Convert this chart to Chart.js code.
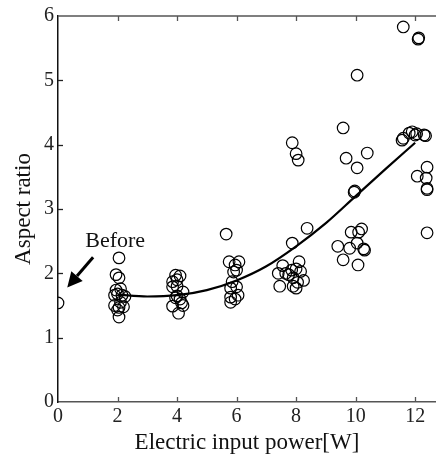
<!DOCTYPE html>
<html>
<head>
<meta charset="utf-8">
<script src="https://cdn.jsdelivr.net/npm/chart.js@4.4.1/dist/chart.umd.min.js"></script>
<style>
html,body{margin:0;padding:0;background:#fff;}
#wrap{width:436px;height:461px;}
</style>
</head>
<body>
<div id="wrap"><canvas id="c" width="436" height="461"></canvas></div>
<script>
// ---- data ----
const pointX = [
  0,
  2.05,1.95,2.05,1.95,2.1,2.0,2.15,2.25,1.9,1.9,2.05,2.2,2.0,2.05,2.1,
  3.95,4.1,3.85,4.0,3.85,4.0,4.2,3.95,4.1,4.15,3.85,4.2,4.05,4.0,
  5.65,5.75,6.08,5.95,5.9,5.85,5.8,6.0,5.8,6.05,5.8,5.95,6.0,
  8.37,7.87,7.55,8.1,7.4,7.65,7.85,8.0,8.15,7.9,8.25,7.45,7.9,8.0,7.75,8.05,7.87,8.0,8.07,
  10.05,9.58,9.68,10.39,10.05,9.95,9.97,10.2,10.1,9.85,10.05,10.3,10.27,9.4,9.8,9.58,10.08,
  11.6,12.1,12.12,11.56,11.6,11.8,11.9,12.0,12.05,12.3,12.35,12.4,12.07,12.37,12.4,12.4,12.4
];
const pointY = [
  1.54,
  2.24,1.98,1.93,1.74,1.76,1.68,1.66,1.64,1.66,1.50,1.47,1.48,1.43,1.32,1.55,
  1.97,1.96,1.87,1.90,1.79,1.80,1.71,1.62,1.60,1.54,1.49,1.50,1.38,1.65,
  2.61,2.18,2.18,2.13,2.02,1.87,1.77,1.79,1.63,1.66,1.55,1.60,2.05,
  2.70,2.47,2.12,2.18,2.00,2.00,2.05,2.07,2.03,1.93,1.89,1.80,1.80,1.77,1.98,1.86,4.03,3.86,3.76,
  5.08,4.26,3.79,3.87,3.64,3.26,3.28,2.69,2.64,2.64,2.47,2.36,2.38,2.42,2.39,2.21,2.13,
  5.83,5.64,5.66,4.07,4.10,4.18,4.20,4.15,4.17,4.15,4.14,3.65,3.51,3.48,3.30,3.32,2.63
];
const fitX = [2,3,4,5,6,7,8,9,10,11,12];
const fitY = [1.67,1.64,1.66,1.74,1.89,2.11,2.42,2.78,3.20,3.62,4.03];
const xTicks = [0,2,4,6,8,10,12];
const yTicks = [0,1,2,3,4,5,6];
const xTitle = 'Electric input power[W]';
const yTitle = 'Aspect ratio';
const noteText = 'Before';

const FONT = "'Liberation Serif','DejaVu Serif',serif";

const deco = {
  id: 'deco',
  afterDraw(chart) {
    const {ctx, chartArea: a, scales: {x, y}} = chart;
    ctx.save();
    // top border
    ctx.strokeStyle = '#555';
    ctx.lineWidth = 1.5;
    ctx.beginPath();
    ctx.moveTo(a.left, a.top);
    ctx.lineTo(a.right, a.top);
    ctx.stroke();
    // inward ticks
    ctx.lineWidth = 1.3;
    xTicks.forEach(v => {
      if (v === 0) return;
      const px = Math.round(x.getPixelForValue(v)) + 0.5;
      ctx.beginPath();
      ctx.moveTo(px, a.bottom); ctx.lineTo(px, a.bottom - 5);
      ctx.moveTo(px, a.top); ctx.lineTo(px, a.top + 5);
      ctx.stroke();
    });
    ctx.strokeStyle = '#222';
    yTicks.forEach(v => {
      if (v === 0 || v === 6) return;
      const py = Math.round(y.getPixelForValue(v)) + 0.5;
      ctx.beginPath();
      ctx.moveTo(a.left, py); ctx.lineTo(a.left + 5, py);
      ctx.stroke();
    });
    // annotation arrow
    const x1 = x.getPixelForValue(1.18), y1 = y.getPixelForValue(2.25);
    const x2 = x.getPixelForValue(0.31), y2 = y.getPixelForValue(1.78);
    const ang = Math.atan2(y2 - y1, x2 - x1);
    const hl = 15, hw = 7.5;
    const bx = x2 - hl * Math.cos(ang), by = y2 - hl * Math.sin(ang);
    ctx.strokeStyle = '#000';
    ctx.fillStyle = '#000';
    ctx.lineWidth = 3;
    ctx.beginPath();
    ctx.moveTo(x1, y1); ctx.lineTo(bx, by);
    ctx.stroke();
    ctx.beginPath();
    ctx.moveTo(x2, y2);
    ctx.lineTo(bx + hw * Math.sin(ang), by - hw * Math.cos(ang));
    ctx.lineTo(bx - hw * Math.sin(ang), by + hw * Math.cos(ang));
    ctx.closePath();
    ctx.fill();
    // note text
    ctx.font = "22px " + FONT;
    ctx.textAlign = 'center';
    ctx.textBaseline = 'middle';
    ctx.fillStyle = '#111';
    ctx.fillText(noteText, x.getPixelForValue(1.92), y.getPixelForValue(2.5));
    ctx.restore();
  }
};

new Chart(document.getElementById('c'), {
  type: 'scatter',
  data: {
    datasets: [
      {
        type: 'line',
        data: fitX.map((v, i) => ({x: v, y: fitY[i]})),
        borderColor: '#000',
        borderWidth: 2.2,
        pointRadius: 0,
        fill: false,
        cubicInterpolationMode: 'monotone',
        order: 1
      },
      {
        data: pointX.map((v, i) => ({x: v, y: pointY[i]})),
        pointStyle: 'circle',
        pointRadius: 5.8,
        pointBorderWidth: 1.2,
        pointBorderColor: '#000',
        pointBackgroundColor: 'rgba(0,0,0,0)',
        order: 2
      }
    ]
  },
  options: {
    responsive: false,
    animation: false,
    layout: {autoPadding: false, padding: {top: 16, right: 0, left: 0, bottom: 0}},
    plugins: {legend: {display: false}, tooltip: {enabled: false}},
    scales: {
      x: {
        type: 'linear',
        min: 0, max: 12.7,
        afterBuildTicks: s => { s.ticks = xTicks.map(v => ({value: v})); },
        afterFit: s => { s.height = 59; s.paddingRight = 0; s.paddingLeft = 0; },
        grid: {display: false, drawTicks: false},
        border: {display: true, color: '#555', width: 1.5},
        ticks: {color: '#222', padding: 3, font: {family: FONT, size: 20}},
        title: {display: true, text: xTitle, color: '#111', font: {family: FONT, size: 23}, padding: {top: 0, bottom: 4}}
      },
      y: {
        type: 'linear',
        min: 0, max: 6,
        afterBuildTicks: s => { s.ticks = yTicks.map(v => ({value: v})); },
        afterFit: s => { s.width = 58; s.paddingTop = 0; s.paddingBottom = 0; },
        grid: {display: false, drawTicks: false},
        border: {display: true, color: '#111', width: 1.5},
        ticks: {color: '#222', padding: 4, font: {family: FONT, size: 20}},
        title: {display: true, text: yTitle, color: '#111', font: {family: FONT, size: 23}, padding: {top: 10, bottom: 0}}
      }
    }
  },
  plugins: [deco]
});
</script>
</body>
</html>
